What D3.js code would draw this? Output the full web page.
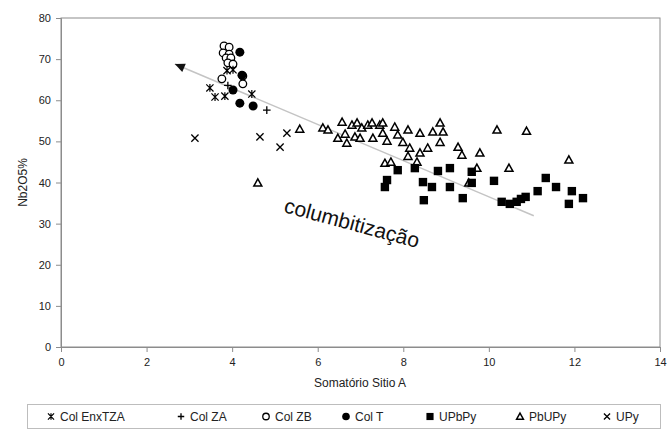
<!DOCTYPE html>
<html>
<head>
<meta charset="utf-8">
<script src="https://cdn.jsdelivr.net/npm/d3@7"></script>
<style>
  body { margin: 0; background: #fff; }
  text { font-family: "Liberation Sans", Arial, sans-serif; }
</style>
</head>
<body>
<svg id="chart" width="672" height="431"></svg>
<script>
// Axis ticks
const xTicks = [0, 2, 4, 6, 8, 10, 12, 14];
const yTicks = [0, 10, 20, 30, 40, 50, 60, 70, 80];

// Series: [Somatório Sitio A, Nb2O5%]
const colEnxTZA = [[3.48, 63.0], [3.60, 60.8], [3.83, 61.0], [4.46, 61.5], [3.88, 67.2], [4.02, 67.4]];
const colZA = [[4.81, 57.6], [3.90, 63.6]];
const colZB = [[3.81, 73.2], [3.93, 72.9], [3.79, 71.5], [3.93, 71.2], [3.86, 70.3], [3.97, 70.3],
               [3.90, 69.1], [4.02, 68.8], [3.76, 65.2], [4.25, 65.9], [4.25, 64.0]];
const colT = [[4.18, 71.7], [4.23, 66.1], [4.02, 62.5], [4.18, 59.3], [4.49, 58.6]];
const uPbPy = [[7.57, 38.9], [7.62, 40.6], [7.87, 43.0], [8.27, 43.5], [8.46, 40.1], [8.67, 38.9],
               [8.48, 35.7], [8.81, 42.8], [9.09, 43.5], [9.09, 38.9], [9.39, 36.2], [9.60, 42.6],
               [9.60, 39.9], [10.12, 40.4], [10.30, 35.3], [10.49, 34.8], [10.65, 35.3], [10.75, 36.0],
               [10.86, 36.5], [11.33, 41.1], [11.14, 37.9], [11.57, 38.9], [11.94, 37.9], [11.87, 34.8],
               [12.20, 36.2]];
const pbUPy = [[4.60, 39.9], [5.58, 53.0], [6.12, 53.3], [6.24, 52.8], [6.57, 54.7], [6.47, 50.8],
               [6.64, 51.8], [6.68, 49.6], [6.80, 54.0], [6.92, 54.5], [6.87, 51.1], [6.99, 50.8],
               [7.03, 53.3], [7.17, 54.0], [7.27, 54.5], [7.29, 50.8], [7.45, 54.0], [7.52, 52.0],
               [7.62, 50.1], [7.57, 44.7], [7.71, 45.0], [7.80, 53.5], [7.87, 51.6], [7.99, 49.8],
               [8.11, 52.8], [8.11, 46.4], [8.15, 48.4], [8.32, 45.0], [8.39, 52.0], [8.39, 47.2],
               [8.57, 48.4], [8.69, 52.3], [8.86, 54.5], [8.93, 52.3], [8.86, 49.8], [9.28, 48.6],
               [9.37, 46.7], [9.79, 47.2], [10.19, 52.8], [10.88, 52.5], [9.72, 43.5], [10.47, 43.5],
               [9.53, 39.9], [11.87, 45.5], [7.52, 54.5]];
const uPy = [[3.13, 50.8], [4.65, 51.1], [5.12, 48.6], [5.28, 52.0]];

// Trend arrow (start = arrow head)
const trend = [[2.66, 68.8], [11.05, 31.9]];
const trendLabel = "columbitização";

const legendNames = ["Col EnxTZA", "Col ZA", "Col ZB", "Col T", "UPbPy", "PbUPy", "UPy"];

const svg = d3.select("#chart");
svg.append("rect").attr("width", 672).attr("height", 431).attr("fill", "#fff");

const x = d3.scaleLinear().domain([0, 14]).range([61, 660]);
const y = d3.scaleLinear().domain([0, 80]).range([347, 18]);

const axisColor = "#8c8c8c";
const labelColor = "#222";

// Plot frame
svg.append("rect")
  .attr("x", x(0)).attr("y", y(80))
  .attr("width", x(14) - x(0)).attr("height", y(0) - y(80))
  .attr("fill", "none").attr("stroke", axisColor).attr("stroke-width", 1);

const gx = svg.append("g").attr("transform", `translate(0,${y(0)})`)
  .call(d3.axisBottom(x).tickValues(xTicks).tickSize(5).tickPadding(6).tickFormat(d3.format("d")));
const gy = svg.append("g").attr("transform", `translate(${x(0)},0)`)
  .call(d3.axisLeft(y).tickValues(yTicks).tickSize(5).tickPadding(5).tickFormat(d3.format("d")));
[gx, gy].forEach(g => {
  g.select(".domain").attr("stroke", axisColor);
  g.selectAll(".tick line").attr("stroke", axisColor);
  g.selectAll(".tick text").attr("fill", labelColor).attr("font-size", 11)
    .style("font-family", '"Liberation Sans", Arial, sans-serif');
});

svg.append("text").attr("x", 360).attr("y", 387).attr("text-anchor", "middle")
  .attr("font-size", 12).attr("fill", labelColor).text("Somatório Sitio A");
svg.append("text").attr("transform", `translate(27,${(y(0) + y(80)) / 2}) rotate(-90)`)
  .attr("text-anchor", "middle").attr("font-size", 12).attr("fill", labelColor).text("Nb2O5%");

// Trend line
svg.append("line")
  .attr("x1", x(trend[0][0])).attr("y1", y(trend[0][1]))
  .attr("x2", x(trend[1][0])).attr("y2", y(trend[1][1]))
  .attr("stroke", "#c4c4c4").attr("stroke-width", 1.5);

// Marker drawing
function drawMarker(g, type, cx, cy, s) {
  const k = s || 1;
  if (type === "star") {
    const h = 3.6 * k;
    g.append("path").attr("d", `M${cx - h},${cy - h}L${cx + h},${cy + h}M${cx + h},${cy - h}L${cx - h},${cy + h}M${cx},${cy - h * 1.1}L${cx},${cy + h * 1.1}`)
      .attr("stroke", "#000").attr("stroke-width", 1.2).attr("fill", "none");
  } else if (type === "plus") {
    const h = 3.8 * k;
    g.append("path").attr("d", `M${cx - h},${cy}L${cx + h},${cy}M${cx},${cy - h}L${cx},${cy + h}`)
      .attr("stroke", "#000").attr("stroke-width", 1.3).attr("fill", "none");
  } else if (type === "ocircle") {
    g.append("circle").attr("cx", cx).attr("cy", cy).attr("r", 3.8 * k)
      .attr("fill", "#fff").attr("stroke", "#000").attr("stroke-width", 1.3);
  } else if (type === "fcircle") {
    g.append("circle").attr("cx", cx).attr("cy", cy).attr("r", 4.5 * k).attr("fill", "#000");
  } else if (type === "square") {
    const h = 4.2 * k;
    g.append("rect").attr("x", cx - h).attr("y", cy - h).attr("width", 2 * h).attr("height", 2 * h).attr("fill", "#000");
  } else if (type === "tri") {
    const h = 4 * k;
    g.append("path").attr("d", `M${cx},${cy - h}L${cx + h},${cy + h * 0.8}L${cx - h},${cy + h * 0.8}Z`)
      .attr("fill", "#fff").attr("stroke", "#000").attr("stroke-width", 1.5).attr("stroke-linejoin", "miter");
  } else if (type === "x") {
    const h = 3.6 * k;
    g.append("path").attr("d", `M${cx - h},${cy - h}L${cx + h},${cy + h}M${cx + h},${cy - h}L${cx - h},${cy + h}`)
      .attr("stroke", "#000").attr("stroke-width", 1.3).attr("fill", "none");
  }
}

const series = [
  { data: pbUPy, type: "tri" },
  { data: uPbPy, type: "square" },
  { data: uPy, type: "x" },
  { data: colZB, type: "ocircle" },
  { data: colT, type: "fcircle" },
  { data: colEnxTZA, type: "star" },
  { data: colZA, type: "plus" }
];
const gm = svg.append("g");
series.forEach(s => s.data.forEach(d => drawMarker(gm, s.type, x(d[0]), y(d[1]))));

// Arrow head at the start of the trend line
{
  const x0 = x(trend[0][0]), y0 = y(trend[0][1]);
  const ang = Math.atan2(y(trend[1][1]) - y0, x(trend[1][0]) - x0);
  svg.append("path")
    .attr("d", "M0,0L10,-4.5L10,4.5Z")
    .attr("transform", `translate(${x0},${y0}) rotate(${ang * 180 / Math.PI})`)
    .attr("fill", "#111");
}

svg.append("text")
  .attr("transform", "translate(283,212) rotate(15)")
  .attr("font-size", 21).attr("fill", "#111").text(trendLabel);

// Legend
svg.append("rect").attr("x", 27.5).attr("y", 404.5).attr("width", 633).attr("height", 24)
  .attr("fill", "#fff").attr("stroke", "#bdbdbd");
const legendTypes = ["star", "plus", "ocircle", "fcircle", "square", "tri", "x"];
const legendX = [51, 181, 266, 346, 430, 520, 607];
const lg = svg.append("g");
legendNames.forEach((name, i) => {
  drawMarker(lg, legendTypes[i], legendX[i], 416.5, 0.85);
  lg.append("text").attr("x", legendX[i] + 9).attr("y", 421).attr("font-size", 12)
    .attr("textLength", null)
    .attr("fill", labelColor).text(name);
});
</script>
</body>
</html>
